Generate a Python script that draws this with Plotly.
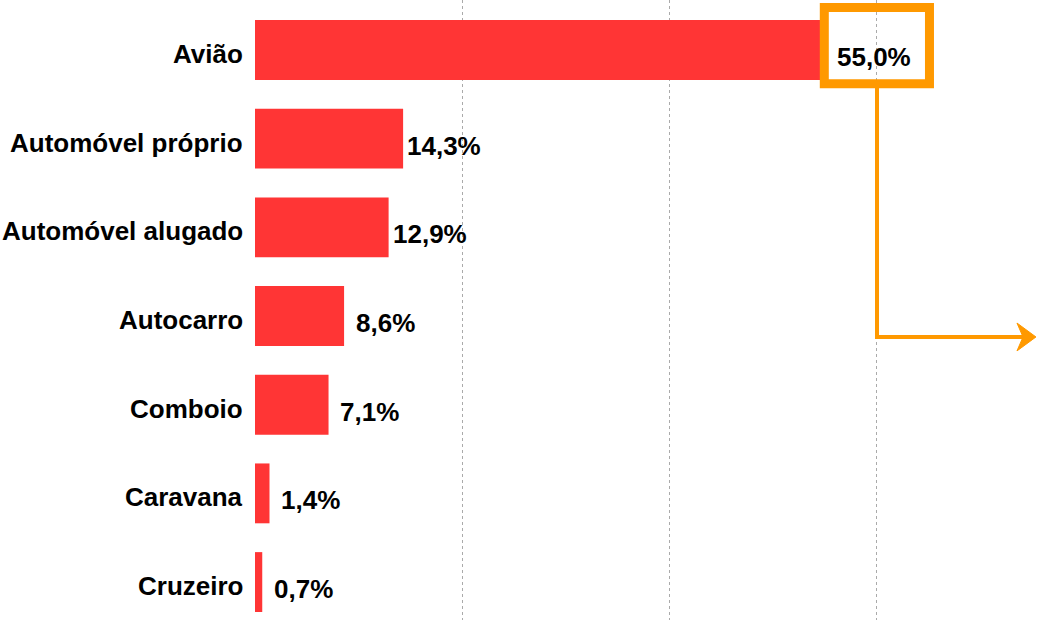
import plotly.graph_objects as go

# dados
categorias = ['Avião', 'Automóvel próprio', 'Automóvel alugado', 'Autocarro',
              'Comboio', 'Caravana', 'Cruzeiro']
valores = [55.0, 14.3, 12.9, 8.6, 7.1, 1.4, 0.7]
rotulos = ['55,0%', '14,3%', '12,9%', '8,6%', '7,1%', '1,4%', '0,7%']

VERMELHO = '#FF3535'
LARANJA = '#FF9900'
FONTE = 'Arial, Liberation Sans, sans-serif'

fig = go.Figure()
fig.add_trace(go.Bar(
    x=valores,
    y=categorias,
    orientation='h',
    marker=dict(color=VERMELHO, line=dict(width=0)),
    hoverinfo='skip',
))

for cat, val, txt in zip(categorias, valores, rotulos):
    # nome da categoria, à esquerda do eixo
    fig.add_annotation(xref='paper', x=0, y=cat, text=f'<b>{cat}</b>',
                       showarrow=False, xanchor='right', xshift=-10,
                       yshift=-4,
                       font=dict(family=FONTE, size=26, color='black'))
    # valor, à direita da barra (o máximo fica centrado na caixa laranja)
    desloc = 49 if val == max(valores) else 41
    fig.add_annotation(x=val, y=cat, text=f'<b>{txt}</b>', showarrow=False,
                       xanchor='center', xshift=desloc, yshift=-7,
                       font=dict(family=FONTE, size=26, color='black'))

# destaque do valor máximo: caixa laranja + seta (coordenadas em "paper")
fig.add_shape(type='rect', xref='paper', yref='paper',
              x0=0.728, x1=0.8625, y0=0.865, y1=0.988,
              line=dict(color=LARANJA, width=9), fillcolor='rgba(0,0,0,0)',
              layer='above')
fig.add_shape(type='path', xref='paper', yref='paper',
              path='M0.7954,0.858 L0.7954,0.4565 L0.985,0.4565',
              line=dict(color=LARANJA, width=4), layer='above')
fig.add_shape(type='path', xref='paper', yref='paper',
              path='M0.9987,0.4565 L0.9744,0.479 L0.9821,0.4565 '
                   'L0.9744,0.434 Z',
              line=dict(color=LARANJA, width=1), fillcolor=LARANJA,
              layer='above')

fig.update_layout(
    width=1037, height=620,
    margin=dict(l=255, r=0, t=0, b=0),
    paper_bgcolor='white', plot_bgcolor='white',
    showlegend=False,
    bargap=0.325,
    xaxis=dict(range=[0, 75.5], showgrid=True, gridcolor='#aaaaaa',
               griddash='dot', gridwidth=1, dtick=20, tick0=0,
               showticklabels=False, zeroline=False, showline=False,
               automargin=False),
    yaxis=dict(categoryorder='array', categoryarray=categorias,
               range=[6.428, -0.564], showgrid=False, zeroline=False,
               showline=False, ticks='', showticklabels=False,
               automargin=False),
)

# tira a margem por defeito do <body> para o gráfico começar em (0,0)
fig.write_html('out.html', config={'displayModeBar': False},
               post_script="document.body.style.margin='0';")
